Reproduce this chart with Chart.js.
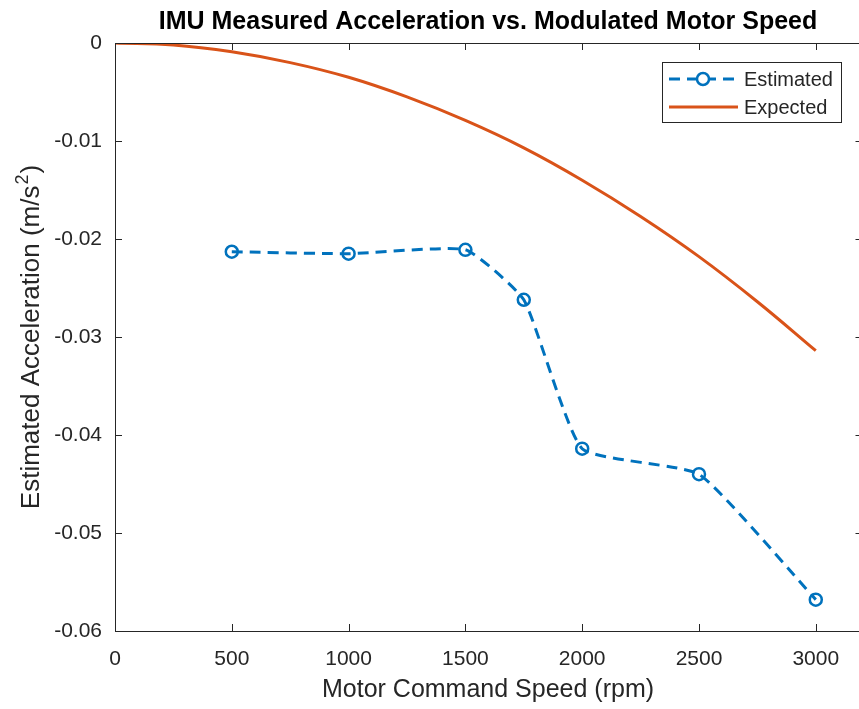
<!DOCTYPE html>
<html>
<head>
<meta charset="utf-8">
<script src="https://cdn.jsdelivr.net/npm/chart.js@4.4.1/dist/chart.umd.min.js"></script>
<style>
  html, body { margin: 0; padding: 0; background: #fff; overflow: hidden; }
  #wrap { width: 859px; height: 709px; overflow: hidden; position: relative; }
  canvas { display: block; }
</style>
</head>
<body>
<div id="wrap"><canvas id="chart" width="871" height="709"></canvas></div>
<script>
// --- dados ---
const speedEst = [500, 1000, 1500, 1750, 2000, 2500, 3000];
const accelEst = [-0.0213, -0.0215, -0.0211, -0.0262, -0.0414, -0.0440, -0.0568];

const speedExp = [0, 250, 500, 750, 1000, 1250, 1500, 1750, 2000, 2250, 2500, 2750, 3000];
const accelExp = [0, -0.0002, -0.0009, -0.002, -0.0035, -0.0055, -0.0079, -0.0107, -0.014, -0.0177, -0.0218, -0.0264, -0.0314];

const xTicks = [0, 500, 1000, 1500, 2000, 2500, 3000];
const yTicks = [0, -0.01, -0.02, -0.03, -0.04, -0.05, -0.06];

const titleText = 'IMU Measured Acceleration vs. Modulated Motor Speed';
const xLabel = 'Motor Command Speed (rpm)';
const yLabel = ['Estimated Acceleration (m/s', '2', ')'];

const BLUE = '#0072BD';
const ORANGE = '#D95319';
const AXIS = '#262626';
const FONT = "'Liberation Sans', Arial, Helvetica, sans-serif";

function toXY(xs, ys) {
    return xs.map((x, i) => ({ x: x, y: ys[i] }));
}

// caixa dos eixos, ticks para dentro, títulos e legenda no estilo MATLAB
const matlabAxes = {
    id: 'matlabAxes',
    afterDraw(chart) {
        const ctx = chart.ctx;
        const a = chart.chartArea;
        const xs = chart.scales.x, ys = chart.scales.y;
        const tl = 7;
        ctx.save();
        ctx.strokeStyle = AXIS;
        ctx.lineWidth = 1;
        ctx.strokeRect(a.left + 0.5, a.top + 0.5, a.right - a.left, a.bottom - a.top);
        ctx.beginPath();
        xTicks.forEach(v => {
            const px = Math.round(xs.getPixelForValue(v)) + 0.5;
            ctx.moveTo(px, a.bottom); ctx.lineTo(px, a.bottom - tl);
            ctx.moveTo(px, a.top); ctx.lineTo(px, a.top + tl);
        });
        yTicks.forEach(v => {
            const py = Math.round(ys.getPixelForValue(v)) + 0.5;
            ctx.moveTo(a.left, py); ctx.lineTo(a.left + tl, py);
            ctx.moveTo(a.right, py); ctx.lineTo(a.right - tl, py);
        });
        ctx.stroke();

        // títulos
        ctx.textAlign = 'center';
        ctx.textBaseline = 'middle';
        ctx.fillStyle = '#000';
        ctx.font = 'bold 25px ' + FONT;
        ctx.fillText(titleText, 488, 22);
        ctx.fillStyle = AXIS;
        ctx.font = '25px ' + FONT;
        ctx.fillText(xLabel, 488, 690);

        // rótulo y com expoente sobrescrito
        ctx.save();
        ctx.translate(32, (a.top + a.bottom) / 2);
        ctx.rotate(-Math.PI / 2);
        ctx.textAlign = 'left';
        ctx.font = '26px ' + FONT;
        const w0 = ctx.measureText(yLabel[0]).width;
        const w2 = ctx.measureText(yLabel[2]).width;
        ctx.font = '18px ' + FONT;
        const w1 = ctx.measureText(yLabel[1]).width;
        let x0 = -(w0 + w1 + w2 + 2) / 2;
        ctx.font = '26px ' + FONT;
        ctx.fillText(yLabel[0], x0, 0);
        ctx.font = '18px ' + FONT;
        ctx.fillText(yLabel[1], x0 + w0 + 1, -9);
        ctx.font = '26px ' + FONT;
        ctx.fillText(yLabel[2], x0 + w0 + w1 + 2, 0);
        ctx.restore();

        // legenda
        const lx = 662, ly = 62, lw = 179, lh = 60;
        ctx.fillStyle = '#fff';
        ctx.fillRect(lx, ly, lw, lh);
        ctx.strokeStyle = AXIS;
        ctx.strokeRect(lx + 0.5, ly + 0.5, lw, lh);
        ctx.font = '20px ' + FONT;
        ctx.textAlign = 'left';
        chart.data.datasets.forEach((ds, i) => {
            const cy = ly + 17 + i * 28;
            ctx.strokeStyle = ds.borderColor;
            ctx.lineWidth = ds.borderWidth;
            ctx.setLineDash(ds.borderDash || []);
            ctx.beginPath();
            ctx.moveTo(669, cy); ctx.lineTo(738, cy);
            ctx.stroke();
            ctx.setLineDash([]);
            if (ds.pointRadius) {
                ctx.fillStyle = '#fff';
                ctx.lineWidth = ds.pointBorderWidth;
                ctx.beginPath();
                ctx.arc(703, cy, ds.pointRadius, 0, Math.PI * 2);
                ctx.fill();
                ctx.stroke();
            }
            ctx.fillStyle = AXIS;
            ctx.fillText(ds.label, 744, cy + 1);
        });
        ctx.restore();
    }
};

new Chart(document.getElementById('chart'), {
    type: 'line',
    data: {
        datasets: [
            {
                label: 'Estimated',
                data: toXY(speedEst, accelEst),
                borderColor: BLUE,
                borderWidth: 3,
                borderDash: [11, 7],
                tension: 0.15,
                pointRadius: 6,
                pointBorderWidth: 2.5,
                pointBackgroundColor: 'rgba(255,255,255,0)',
                pointBorderColor: BLUE,
                fill: false
            },
            {
                label: 'Expected',
                data: toXY(speedExp, accelExp),
                borderColor: ORANGE,
                borderWidth: 3,
                tension: 0.4,
                pointRadius: 0,
                fill: false
            }
        ]
    },
    options: {
        responsive: false,
        animation: false,
        layout: { padding: { top: 43, right: 0, left: 0, bottom: 0 } },
        plugins: {
            legend: { display: false },
            tooltip: { enabled: false },
            title: { display: false }
        },
        scales: {
            x: {
                type: 'linear',
                min: 0,
                max: 3200,
                afterBuildTicks: s => { s.ticks = xTicks.map(v => ({ value: v })); },
                afterFit: s => { s.height = 78; },
                grid: { display: false },
                border: { display: false },
                ticks: {
                    color: AXIS,
                    padding: 8,
                    font: { family: FONT, size: 21 },
                    callback: v => String(v)
                }
            },
            y: {
                type: 'linear',
                min: -0.06,
                max: 0,
                afterBuildTicks: s => { s.ticks = yTicks.map(v => ({ value: v })); },
                afterFit: s => { s.width = 115; },
                grid: { display: false },
                border: { display: false },
                ticks: {
                    color: AXIS,
                    padding: 5,
                    font: { family: FONT, size: 21 },
                    callback: v => String(v)
                }
            }
        }
    },
    plugins: [matlabAxes]
});
</script>
</body>
</html>
